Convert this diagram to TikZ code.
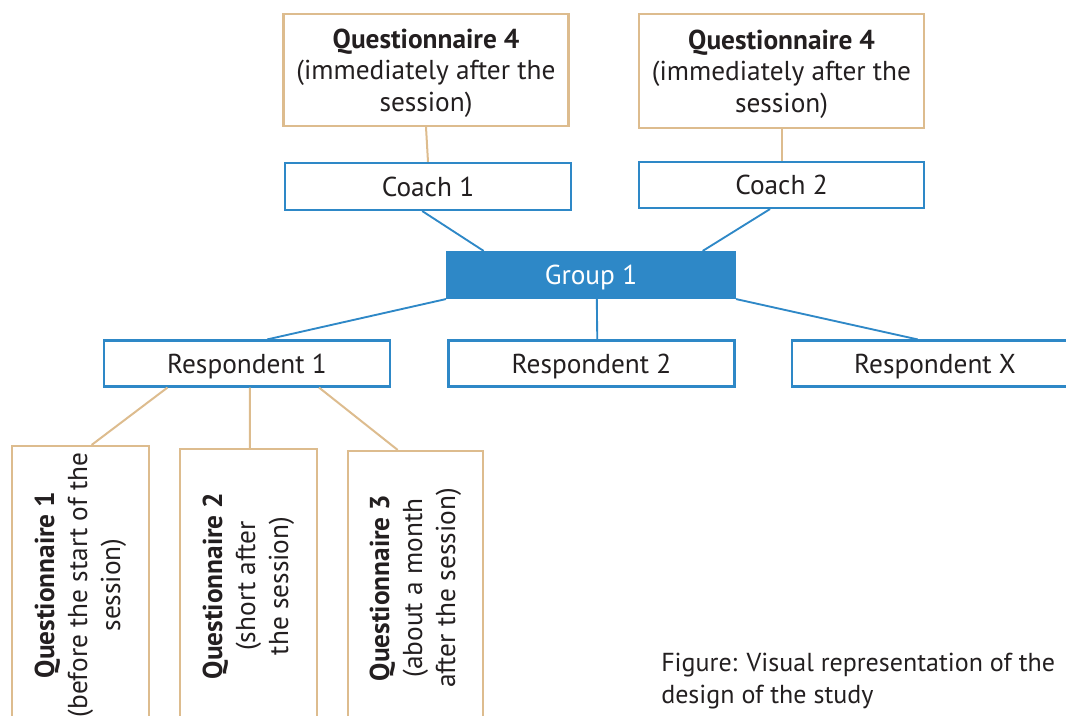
\documentclass[tikz,border=0pt]{standalone}
\usepackage{fontspec}
\setmainfont{PT Sans}
\usepackage{graphicx}
\usetikzlibrary{calc}

\definecolor{studyblue}{RGB}{46,136,199}
\definecolor{studytan}{RGB}{221,188,142}
\definecolor{studytext}{RGB}{35,31,32}

\begin{document}
\begin{tikzpicture}[
  x=0.75pt, y=-0.75pt,
  every node/.style={font=\fontsize{20.5}{23.5}\selectfont, text=studytext, inner sep=0pt, text depth=0pt},
  person/.style={draw=studyblue, line width=1.6pt, fill=white, align=center},
  group/.style={draw=studyblue, fill=studyblue, line width=1.6pt, text=white, align=center},
  survey/.style={draw=studytan, line width=1.6pt, fill=white, align=center},
  upright survey/.style={survey, font=\fontsize{20.5}{24.75}\selectfont},
  blue link/.style={draw=studyblue, line width=1.4pt},
  tan link/.style={draw=studytan, line width=1.5pt}
]

\useasboundingbox (0,0) rectangle (1066,716);
\clip (0,0) rectangle (1066,716);

%% COACHES
% Questionnaires for the coaches
\node[survey, minimum width=213.75pt, minimum height=84pt] (q4a) at (426,70)
  {\textbf{Questionnaire 4}\\(immediately after the\\session)};
\node[survey, minimum width=213.75pt, minimum height=85.5pt] (q4b) at (781.5,71)
  {\textbf{Questionnaire 4}\\(immediately after the\\session)};

\node[person, minimum width=214.5pt, minimum height=35.25pt] (coach1) at (428,186.5) {Coach 1};
\node[person, minimum width=213.75pt, minimum height=34.5pt] (coach2) at (781.5,185) {Coach 2};

\draw[tan link] (q4a.south) -- (coach1.north);
\draw[tan link] (q4b.south) -- (coach2.north);

%% GROUP
\node[group, minimum width=216pt, minimum height=34.5pt] (group1) at (591,275) {Group 1};

\draw[blue link] ($(coach1.south west)!0.48!(coach1.south east)$) -- ($(group1.north west)!0.13!(group1.north east)$);
\draw[blue link] ($(coach2.south west)!0.46!(coach2.south east)$) -- ($(group1.north west)!0.885!(group1.north east)$);

%% RESPONDENTS
\node[person, minimum width=214.5pt, minimum height=34.5pt] (resp1) at (247,363.5) {Respondent 1};
\node[person, minimum width=214.5pt, minimum height=34.5pt] (resp2) at (591.5,363.5) {Respondent 2};
\node[person, minimum width=214.5pt, minimum height=34.5pt] (respx) at (935,363.5) {Respondent X};

\draw[blue link] (group1.south west) -- ($(resp1.north west)!0.57!(resp1.north east)$);
\draw[blue link] ($(group1.south west)!0.52!(group1.south east)$) -- ($(resp2.north west)!0.52!(resp2.north east)$);
\draw[blue link] (group1.south east) -- ($(respx.north west)!0.44!(respx.north east)$);

%% QUESTIONNAIRES OF RESPONDENT 1
\node[upright survey, minimum width=102.75pt, minimum height=208.5pt] (q1) at (80.5,585)
  {\rotatebox{90}{\begin{tabular}{@{}c@{}}\textbf{Questionnaire 1}\\(before the start of the\\session)\end{tabular}}};
\node[upright survey, minimum width=102.75pt, minimum height=205.5pt] (q2) at (248.5,586)
  {\rotatebox{90}{\begin{tabular}{@{}c@{}}\textbf{Questionnaire 2}\\(short after\\the session)\end{tabular}}};
\node[upright survey, minimum width=101.25pt, minimum height=205.5pt] (q3) at (415.5,588)
  {\rotatebox{90}{\begin{tabular}{@{}c@{}}\textbf{Questionnaire 3}\\(about a month\\after the session)\end{tabular}}};

\draw[tan link] ($(resp1.south west)!0.224!(resp1.south east)$) -- ($(q1.north west)!0.58!(q1.north east)$);
\draw[tan link] ($(resp1.south west)!0.51!(resp1.south east)$) -- ($(q2.north west)!0.51!(q2.north east)$);
\draw[tan link] ($(resp1.south west)!0.75!(resp1.south east)$) -- ($(q3.north west)!0.37!(q3.north east)$);

% Caption
\node[anchor=north west, align=left, font=\fontsize{19.5}{23.5}\selectfont] (caption) at (661,653)
  {Figure: Visual representation of the\\design of the study};

\end{tikzpicture}
\end{document}
